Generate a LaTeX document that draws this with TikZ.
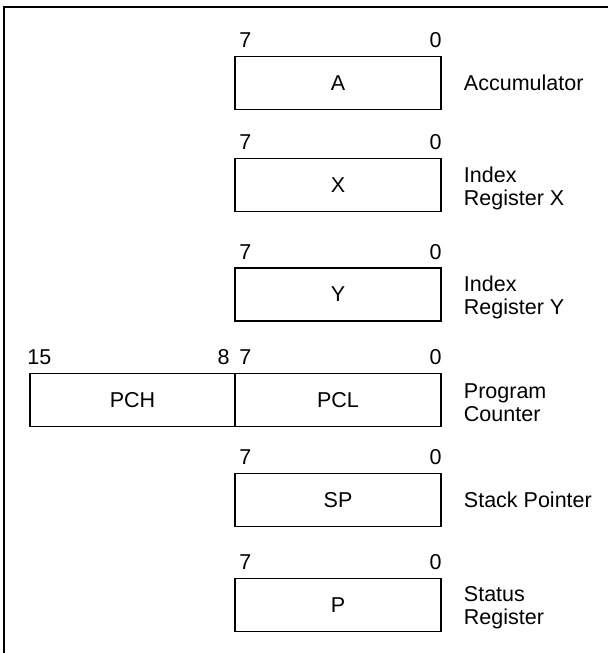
\documentclass[tikz,border=0pt]{standalone}
\usepackage{fontspec}
\setmainfont{Liberation Sans}
\begin{document}
\begin{tikzpicture}[x=1pt,y=-1pt,
  reg/.style={draw, line width=1.5pt, minimum height=53pt, minimum width=206pt, inner sep=0pt, font=\fontsize{21.5}{23}\selectfont},
  bit/.style={inner sep=0pt, font=\fontsize{21.5}{23}\selectfont},
  side/.style={inner sep=0pt, anchor=west, align=left, font=\fontsize{21.5}{23}\selectfont}]
\useasboundingbox (0,0) rectangle (608,653);
\draw[line width=1.5pt] (4,653) -- (4,7) -- (608,7);
% registers
\node[reg] (A) at (338,83) {A};
\node[reg] (X) at (338,185) {X};
\node[reg] (Y) at (338,294.5) {Y};
\node[reg] (PCL) at (338,400) {PCL};
\node[reg, minimum width=205pt] (PCH) at (132.5,400) {PCH};
\node[reg] (SP) at (338,500) {SP};
\node[reg] (P) at (338,605) {P};
% bit labels
\foreach \r in {A,X,Y,PCL,SP,P}{
  \node[bit, anchor=base west] (\r7) at ([xshift=5pt,yshift=8pt]\r.north west) {7};
  \node[bit, anchor=base east] (\r0) at ([yshift=8pt]\r.north east) {0};
}
\node[bit, anchor=base west] (PCH15) at ([xshift=-2pt,yshift=8pt]PCH.north west) {15};
\node[bit, anchor=base east] (PCH8) at ([xshift=-6pt,yshift=8pt]PCH.north east) {8};
% side labels
\node[side] (lA) at ([xshift=22pt]A.east) {Accumulator};
\node[side] (lX) at ([xshift=22pt,yshift=-3pt]X.east) {Index\\Register X};
\node[side] (lY) at ([xshift=22pt,yshift=-3pt]Y.east) {Index\\Register Y};
\node[side] (lPC) at ([xshift=22pt,yshift=-3pt]PCL.east) {Program\\Counter};
\node[side] (lSP) at ([xshift=22pt]SP.east) {Stack Pointer};
\node[side] (lP) at ([xshift=22pt,yshift=-3pt]P.east) {Status\\Register};
\end{tikzpicture}
\end{document}
